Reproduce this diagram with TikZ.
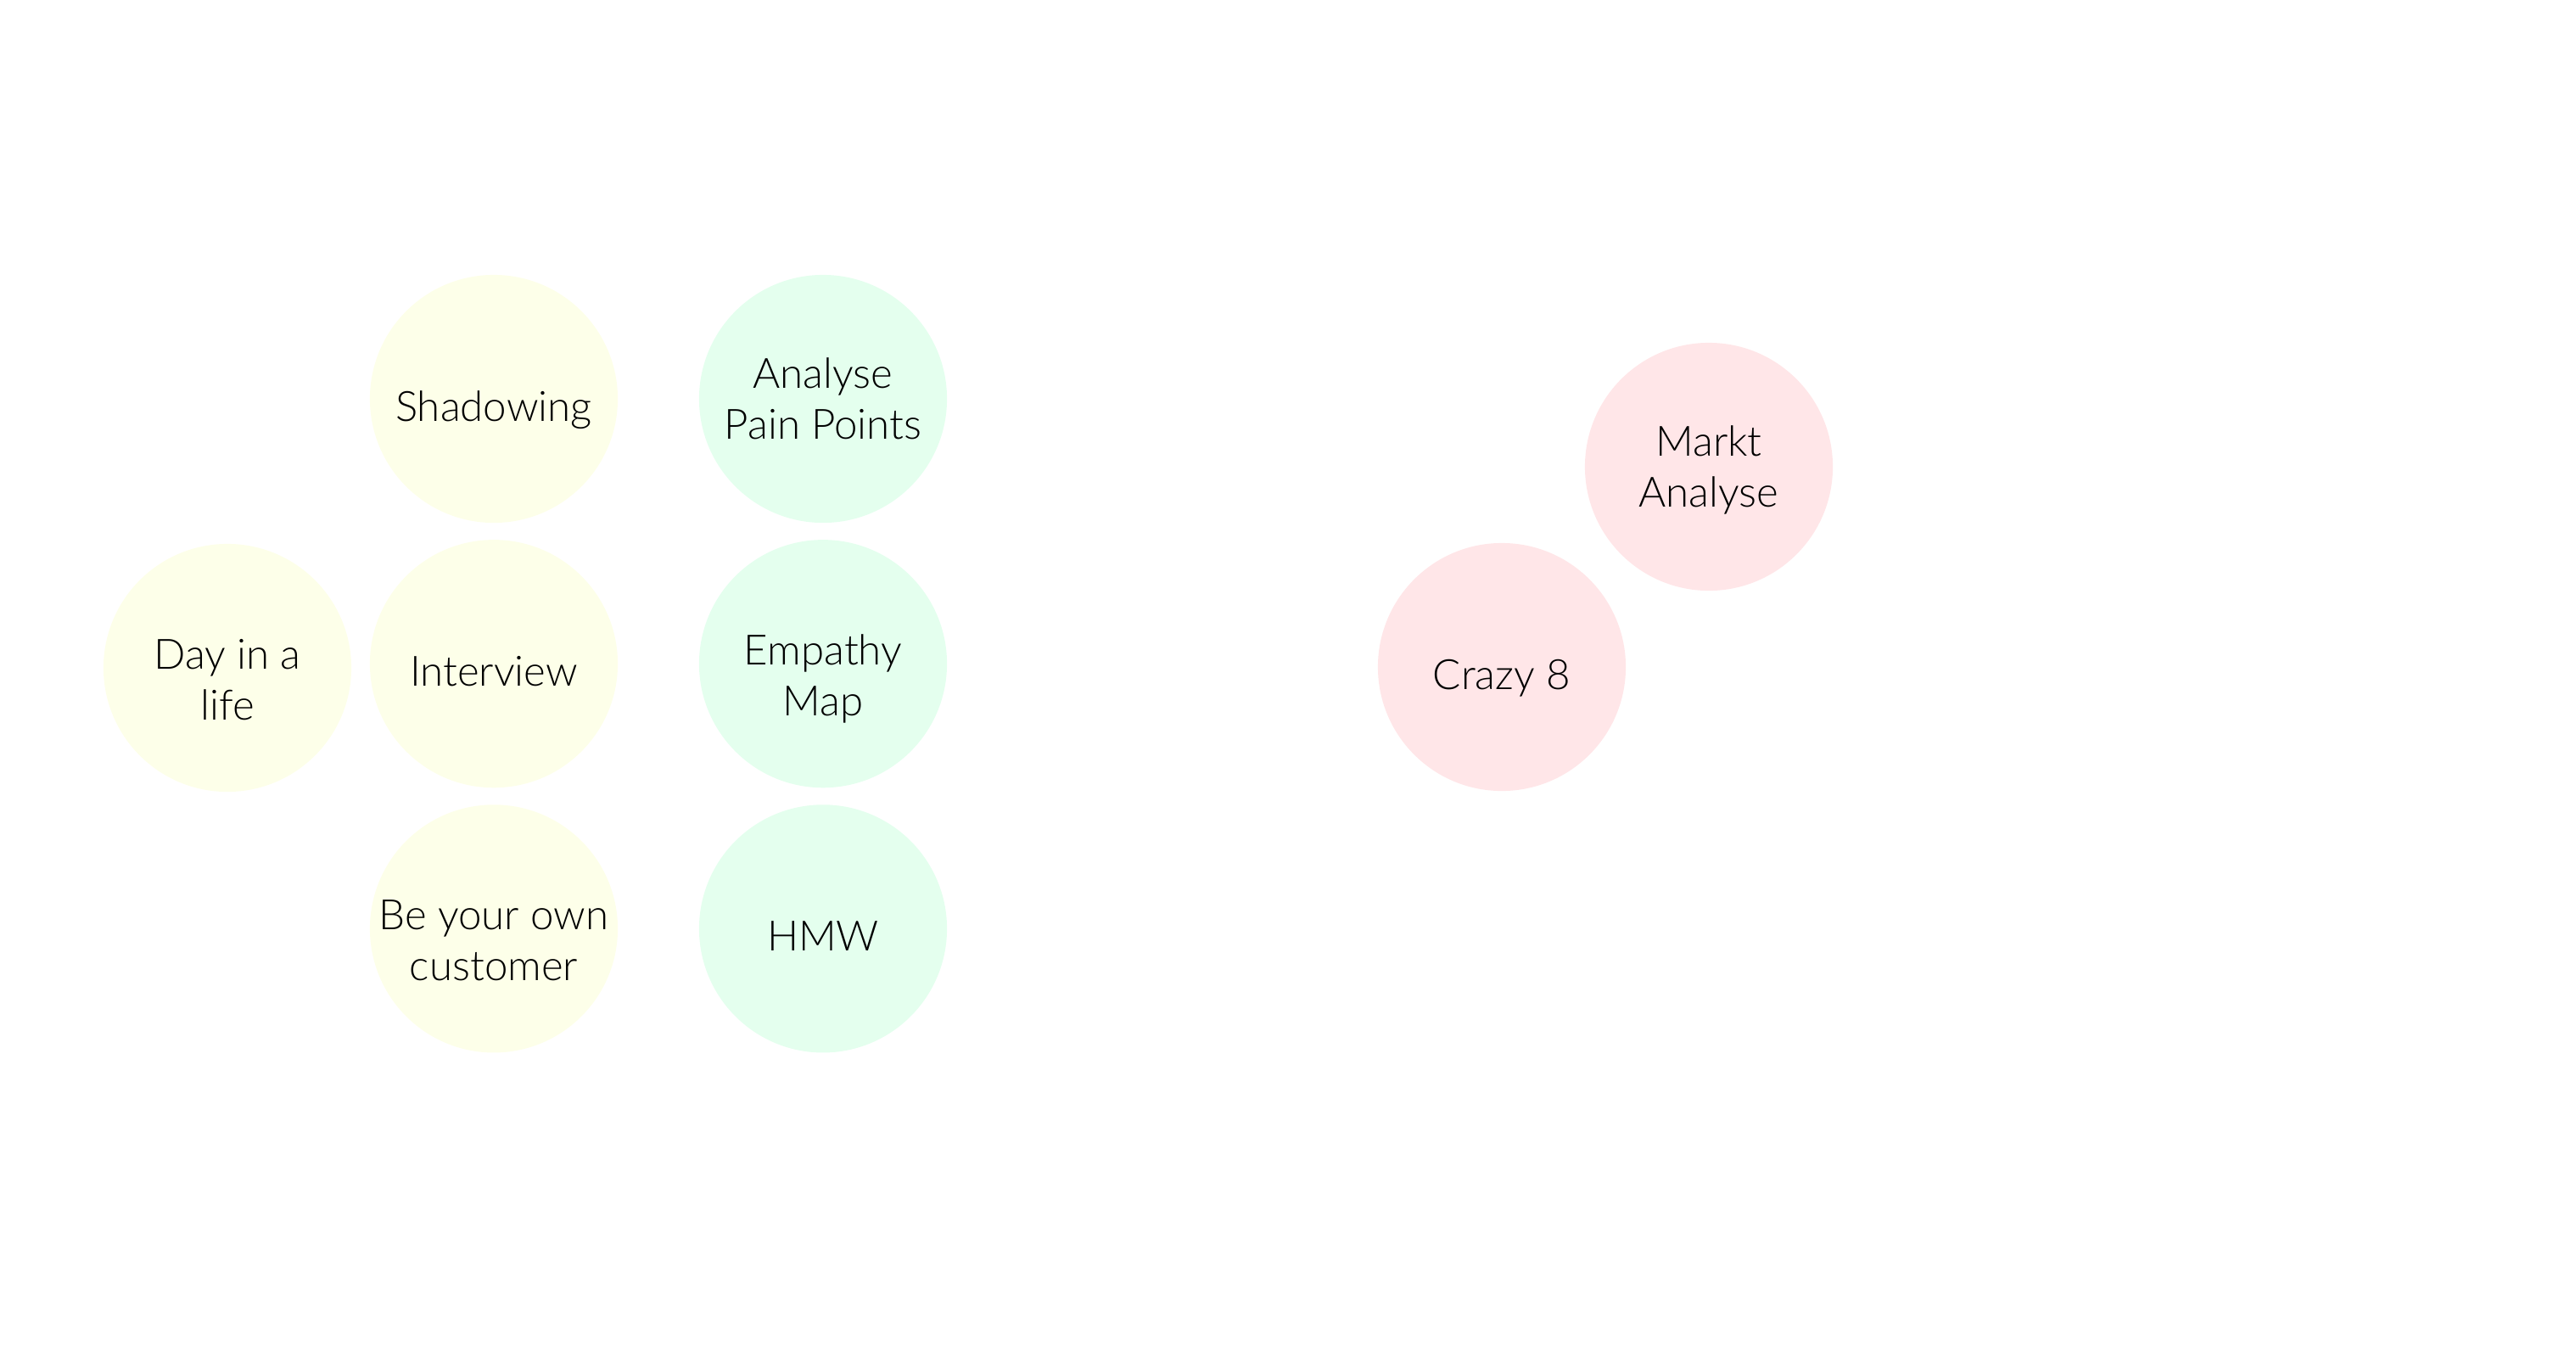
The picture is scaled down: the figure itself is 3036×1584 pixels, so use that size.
\documentclass[tikz,border=0pt]{standalone}
\usepackage{fontspec}
\setmainfont{Lato Light}
\usetikzlibrary{positioning}
\definecolor{discover}{HTML}{FDFFE9}
\definecolor{define}{HTML}{E4FFEE}
\definecolor{ideate}{HTML}{FFE6E8}
\def\rowsep{3.12cm}

\begin{document}
\begin{tikzpicture}[x=0.01cm, y=-0.01cm, node distance=\rowsep, on grid, every node/.append style={font=\fontsize{14}{17}\selectfont}]
    \tikzstyle{method}=[circle, minimum size=2.92cm, inner sep=0pt, align=center, text=black, execute at end node={\rule[-0.15cm]{0pt}{0.15cm}}]
    \tikzstyle{one line}=[execute at begin node={\rule{0pt}{0.67cm}}]
    \tikzstyle{two lines}=[execute at begin node={\rule{0pt}{1.09cm}}]
    \tikzstyle{two lines low}=[execute at begin node={\rule{0pt}{1.37cm}}]
    \tikzstyle{discover method}=[method, fill=discover];
    \tikzstyle{define method}=[method, fill=define];
    \tikzstyle{ideate method}=[method, fill=ideate];

    \useasboundingbox (0,0) rectangle (3036,1584);

    % Research methods
    \node[discover method, one line] (shadow) at (582,470) {Shadowing};
    \node[discover method, one line, below=of shadow] (interview) {Interview};
    \node[discover method, two lines low, below=of interview] (customer) {\makebox[2.4cm]{Be your own}\\customer};
    \node[discover method, two lines low] (day) at (268,787) {Day in a\\life};

    % Synthesis methods
    \node[define method, two lines] (pain) at (970,470) {Analyse\\Pain Points};
    \node[define method, two lines low, below=of pain] (empathy) {Empathy\\Map};
    \node[define method, one line, below=of empathy] (hmw) {HMW};

    % Ideation methods
    \node[ideate method, one line] (crazy) at (1770,786) {Crazy 8};
    \node[ideate method, two lines] (markt) at (2014,550) {Markt\\Analyse};
\end{tikzpicture}
\end{document}
